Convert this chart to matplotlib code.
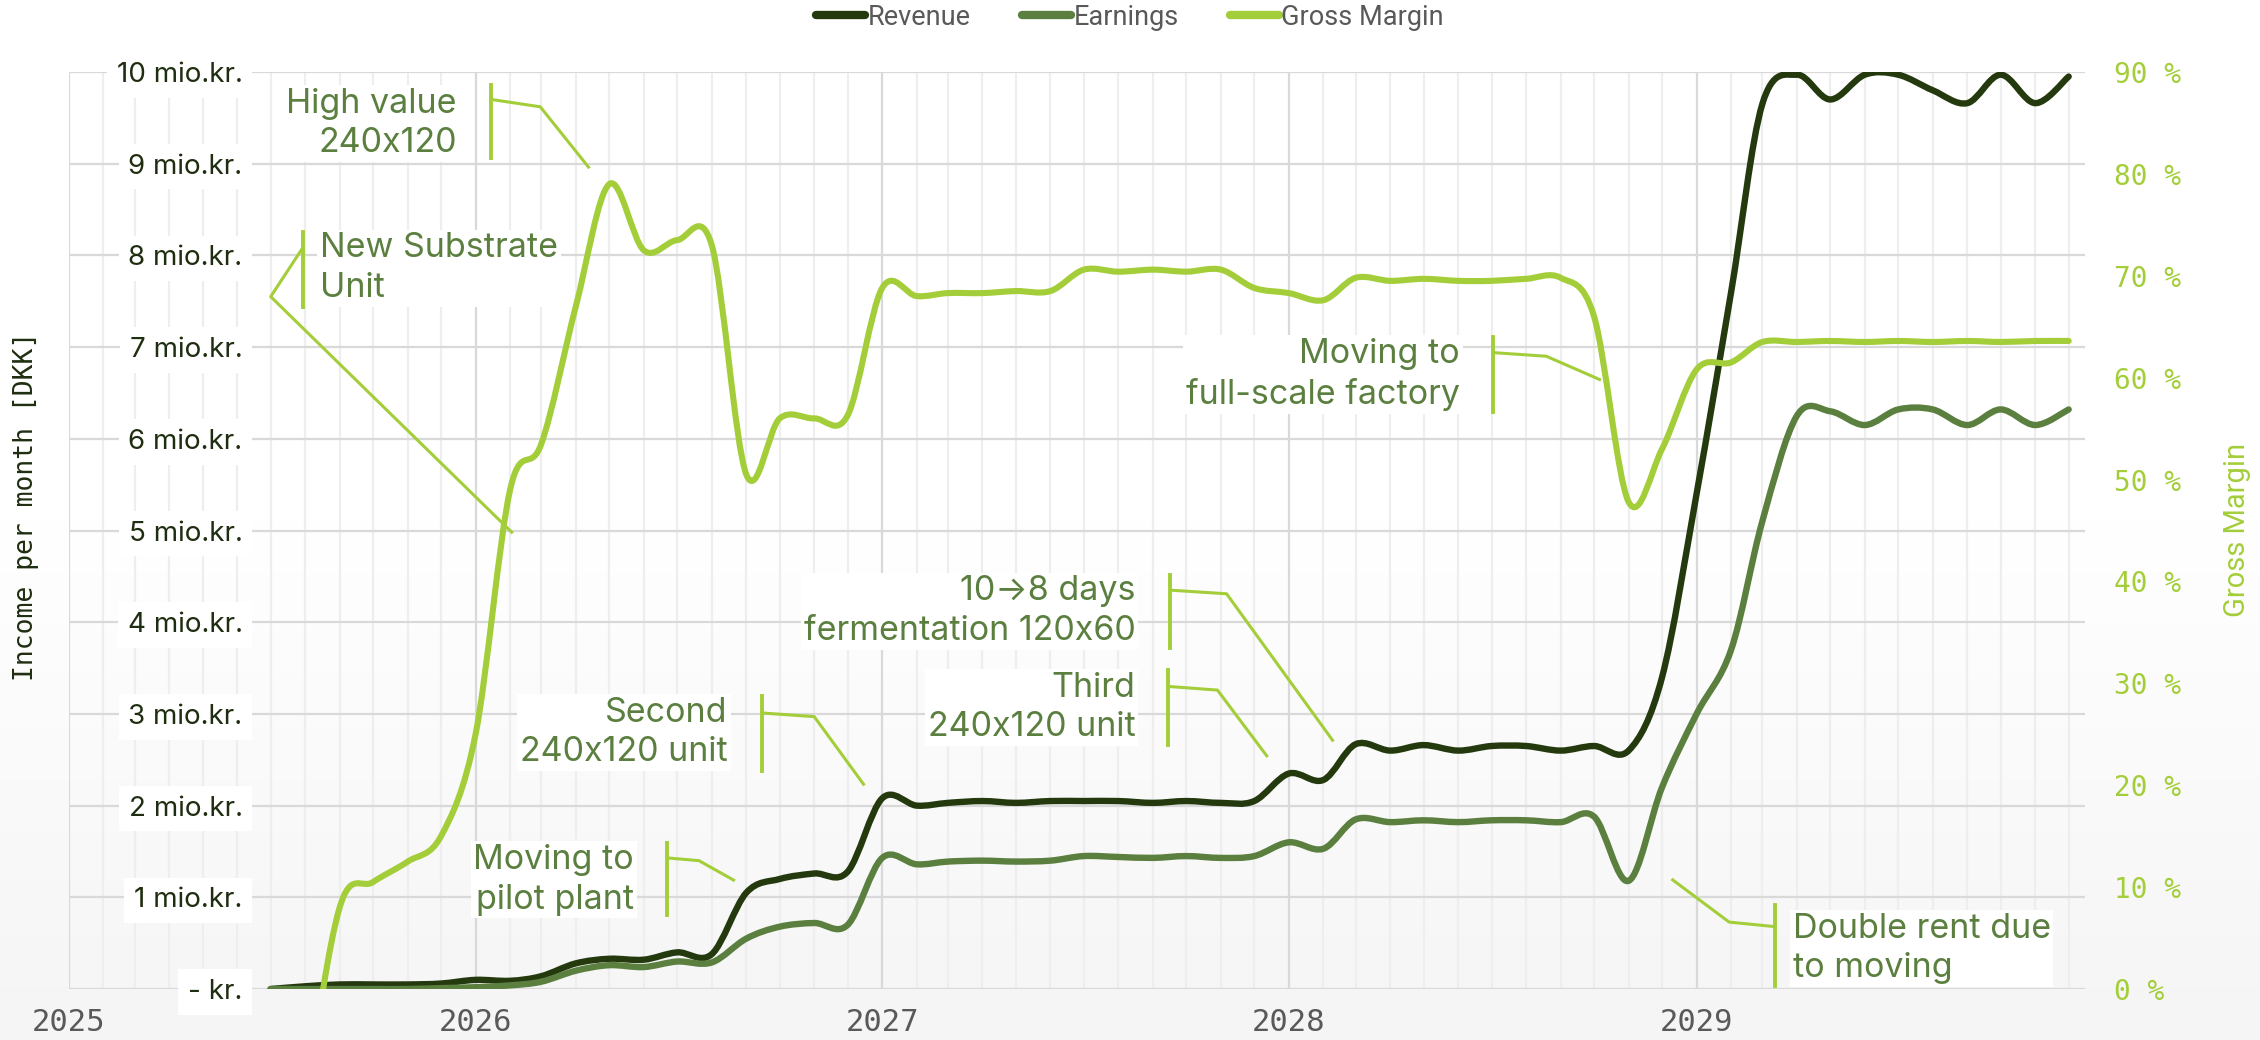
import matplotlib.pyplot as plt
import matplotlib.dates as mdates
import numpy as np
import pandas as pd
from matplotlib.colors import LinearSegmentedColormap
from matplotlib.lines import Line2D
from matplotlib.patches import PathPatch
from matplotlib.path import Path

# MONTHLY FIGURES, JUL 2025 - DEC 2029
months = pd.date_range('2025-07-01', '2029-12-01', freq='MS')

# revenue and earnings in mio. DKK per month
revenue = [0.00, 0.03, 0.05, 0.05, 0.05, 0.06,
           0.10, 0.09, 0.14, 0.28, 0.33, 0.32, 0.40, 0.38, 1.05, 1.20, 1.26, 1.28,
           2.08, 2.00, 2.03, 2.05, 2.03, 2.05, 2.05, 2.05, 2.03, 2.05, 2.03, 2.05,
           2.35, 2.28, 2.67, 2.60, 2.66, 2.60, 2.65, 2.65, 2.60, 2.65, 2.60, 3.40,
           5.40, 7.60, 9.65, 9.97, 9.70, 9.97, 9.97, 9.80, 9.66, 9.97, 9.66, 9.95]
earnings = [0.00, 0.00, 0.00, 0.00, 0.00, 0.01,
            0.02, 0.04, 0.08, 0.20, 0.26, 0.24, 0.30, 0.29, 0.55, 0.68, 0.72, 0.70,
            1.43, 1.36, 1.39, 1.40, 1.39, 1.40, 1.45, 1.44, 1.43, 1.45, 1.43, 1.45,
            1.60, 1.53, 1.85, 1.82, 1.84, 1.82, 1.84, 1.84, 1.82, 1.88, 1.18, 2.20,
            3.00, 3.70, 5.10, 6.25, 6.30, 6.15, 6.32, 6.32, 6.15, 6.32, 6.15, 6.32]
# gross margin in %, negative before the first sales
gross_margin = [-40.0, -12.0, 8.0, 10.5, 12.5, 15.0,
                25.0, 49.0, 53.5, 67.0, 79.0, 72.5, 73.5, 73.0, 50.5, 56.0, 56.0, 56.3,
                68.8, 68.0, 68.3, 68.3, 68.5, 68.5, 70.6, 70.4, 70.6, 70.4, 70.6, 68.8,
                68.3, 67.6, 69.8, 69.5, 69.7, 69.5, 69.5, 69.7, 69.8, 66.0, 47.8, 53.0,
                60.8, 61.5, 63.5, 63.5, 63.6, 63.5, 63.6, 63.5, 63.6, 63.5, 63.6, 63.6]

left_ticks = list(range(0, 11))
left_labels = ['- kr.'] + ['%d mio.kr.' % v for v in left_ticks[1:]]
right_ticks = list(range(0, 100, 10))
right_labels = ['%d %%' % v for v in right_ticks]

# callouts: text, text anchor (month, mio), alignment, leader line (month, mio), bar
notes = [
    ('High value\n240x120', (11.44, 9.44), 'right',
     [(12.46, 9.70), (13.90, 9.62), (15.35, 8.95)], (12.46, 9.86, 9.06)),
    ('New Substrate\nUnit', (7.40, 7.86), 'left',
     [(6.89, 8.08), (5.95, 7.55), (13.09, 4.97)], (6.89, 8.26, 7.44)),
    ('Moving to\nfull-scale factory', (41.02, 6.70), 'right',
     [(41.99, 6.94), (43.57, 6.90), (45.18, 6.64)], (41.99, 7.11, 6.29)),
    ('10\u21928 days\nfermentation 120x60', (31.45, 4.12), 'right',
     [(32.46, 4.35), (34.14, 4.31), (37.29, 2.70)], (32.46, 4.51, 3.72)),
    ('Third\n240x120 unit', (31.45, 3.07), 'right',
     [(32.40, 3.30), (33.87, 3.26), (35.35, 2.53)], (32.40, 3.48, 2.66)),
    ('Second\n240x120 unit', (19.43, 2.80), 'right',
     [(20.45, 3.01), (21.98, 2.97), (23.46, 2.22)], (20.45, 3.19, 2.38)),
    ('Moving to\npilot plant', (16.66, 1.19), 'right',
     [(17.64, 1.43), (18.58, 1.40), (19.64, 1.18)], (17.64, 1.59, 0.81)),
    ('Double rent due\nto moving', (50.83, 0.44), 'left',
     [(50.32, 0.68), (48.96, 0.73), (47.26, 1.20)], (50.32, 0.92, 0.03)),
]

c_rev = '#243a0e'
c_earn = '#5b7f3f'
c_gm = '#a3ce39'
c_text = '#1f2d10'


def smooth_path(x, y):
    # catmull-rom through the monthly points, as bezier segments
    px = np.r_[x[0], x, x[-1]]
    py = np.r_[y[0], y, y[-1]]
    verts = [(x[0], y[0])]
    codes = [Path.MOVETO]
    for i in range(1, len(px) - 2):
        c1 = (px[i] + (px[i + 1] - px[i - 1]) / 6, py[i] + (py[i + 1] - py[i - 1]) / 6)
        c2 = (px[i + 1] - (px[i + 2] - px[i]) / 6, py[i + 1] - (py[i + 2] - py[i]) / 6)
        verts += [c1, c2, (px[i + 1], py[i + 1])]
        codes += [Path.CURVE4] * 3
    return Path(verts, codes)


def month_x(m):
    return mdates.date2num(pd.Timestamp('2025-01-01')) + m * 365.25 / 12


fig = plt.figure(figsize=(22.6, 10.4), dpi=100)

# soft background fading to grey at the bottom
bg = fig.add_axes([0, 0, 1, 1], zorder=-10)
bg.imshow(np.linspace(0, 1, 256).reshape(-1, 1), aspect='auto', extent=[0, 1, 0, 1],
          cmap=LinearSegmentedColormap.from_list('bg', ['#ffffff', '#ffffff', '#f5f5f5']))
bg.axis('off')

ax = fig.add_axes([0.0305, 0.049, 0.892, 0.8818])
ax.patch.set_visible(False)
x = mdates.date2num(months)

ax.add_patch(PathPatch(smooth_path(x, revenue), fill=False, edgecolor=c_rev, lw=4.6,
                       capstyle='round', joinstyle='round', zorder=3))
ax.add_patch(PathPatch(smooth_path(x, earnings), fill=False, edgecolor=c_earn, lw=4.6,
                       capstyle='round', joinstyle='round', zorder=3))

ax.set_xlim(mdates.date2num(pd.Timestamp('2025-01-01')), month_x(59.45))
ax.set_ylim(0, 10)
ax.xaxis.set_major_locator(mdates.YearLocator())
ax.xaxis.set_minor_locator(mdates.MonthLocator())
ax.xaxis.set_major_formatter(mdates.DateFormatter('%Y'))
ax.set_yticks(left_ticks)
ax.set_yticklabels(left_labels)
ax.grid(which='major', color='#d9d9d9', lw=1.6)
ax.grid(which='minor', axis='x', color='#eeeeee', lw=1.6)
ax.set_axisbelow(True)
for s in ax.spines.values():
    s.set_visible(False)
ax.tick_params(which='both', length=0)
ax.tick_params(axis='y', pad=-125, labelsize=20, labelcolor=c_text)
ax.tick_params(axis='x', pad=13.5, labelsize=22, labelcolor='#595959')
for t in ax.get_yticklabels():
    t.set_fontfamily('Inter')
    t.set_bbox(dict(facecolor='white', edgecolor='none', pad=7))
for t in ax.get_xticklabels():
    t.set_fontfamily('DejaVu Sans Mono')

ax2 = ax.twinx()
ax2.add_patch(PathPatch(smooth_path(x, gross_margin), fill=False, edgecolor=c_gm, lw=4.4,
                        capstyle='round', joinstyle='round', zorder=3))
ax2.set_ylim(0, 90)
ax2.set_yticks(right_ticks)
ax2.set_yticklabels(right_labels)
for s in ax2.spines.values():
    s.set_visible(False)
ax2.tick_params(length=0, pad=21, labelsize=20, labelcolor=c_gm)
for t in ax2.get_yticklabels():
    t.set_fontfamily('DejaVu Sans Mono')

# callouts with leader lines, drawn in the revenue axis units
to_gm = 9.0
for txt, (tx, ty), ha, leader, (bx, b0, b1) in notes:
    lx = [month_x(p[0]) for p in leader]
    ly = [p[1] * to_gm for p in leader]
    ax2.plot(lx, ly, color=c_gm, lw=2.2, zorder=5, solid_capstyle='butt')
    ax2.plot([month_x(bx)] * 2, [b0 * to_gm, b1 * to_gm], color=c_gm, lw=2.8, zorder=5)
    ax2.text(month_x(tx), ty * to_gm, txt, ha=ha, va='center', fontsize=24.5,
             family='Inter', color=c_earn, linespacing=1.3, zorder=6,
             bbox=dict(facecolor='white', edgecolor='none', pad=2))

fig.text(0.0115, 0.513, 'Income per month [DKK]', rotation=90, ha='center', va='center',
         fontsize=19, family='DejaVu Sans Mono', color=c_text)
fig.text(0.990, 0.49, 'Gross Margin', rotation=90, ha='center', va='center',
         fontsize=21, family='Roboto', color=c_gm)

handles = [Line2D([], [], color=c, lw=6, solid_capstyle='round') for c in (c_rev, c_earn, c_gm)]
fig.legend(handles, ['Revenue', 'Earnings', 'Gross Margin'], loc='upper center',
           bbox_to_anchor=(0.5, 1.02), ncol=3, frameon=False, handlelength=1.8,
           handletextpad=0.1, columnspacing=1.9, prop={'family': 'Roboto', 'size': 19.5},
           labelcolor='#595959')

fig.savefig('out.png', dpi=100)
